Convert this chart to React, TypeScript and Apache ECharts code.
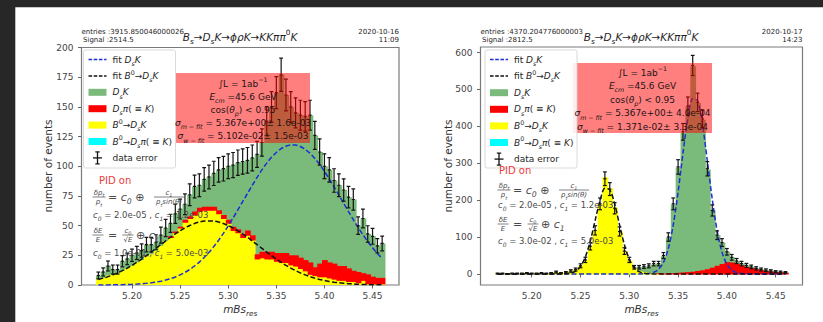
import React, { useEffect, useRef } from 'react';
import * as echarts from 'echarts';

const FONT = '"DejaVu Sans", "Noto Sans", sans-serif';

// bin centres of the reconstructed B_s mass (GeV), bin width 0.005
const MASS_BINS = [
  5.165, 5.17, 5.175, 5.18, 5.185, 5.19, 5.195, 5.2, 5.205, 5.21,
  5.215, 5.22, 5.225, 5.23, 5.235, 5.24, 5.245, 5.25, 5.255, 5.26,
  5.265, 5.27, 5.275, 5.28, 5.285, 5.29, 5.295, 5.3, 5.305, 5.31,
  5.315, 5.32, 5.325, 5.33, 5.335, 5.34, 5.345, 5.35, 5.355, 5.36,
  5.365, 5.37, 5.375, 5.38, 5.385, 5.39, 5.395, 5.4, 5.405, 5.41,
  5.415, 5.42, 5.425, 5.43, 5.435, 5.44, 5.445, 5.45, 5.455, 5.46,
];
const HALF_BIN = 0.0025;

const X_TICKS = [5.2, 5.25, 5.3, 5.35, 5.4, 5.45];
const LEFT_Y_TICKS = [0, 25, 50, 75, 100, 125, 150, 175, 200];
const RIGHT_Y_TICKS = [0, 100, 200, 300, 400, 500, 600];

// ---- run of 2020-10-16 ----
const LEFT_DATA = [
  8, 11, 16, 13, 13, 20, 22, 25, 27, 29,
  34, 34, 36, 42, 48, 52, 60, 64, 68, 76,
  83, 84, 89, 91, 94, 97, 98, 100, 101, 103,
  104, 105, 107, 110, 120, 138, 150, 162, 177, 160,
  150, 145, 143, 142, 143, 126, 112, 100, 97, 88,
  84, 80, 74, 72, 50, 56, 43, 41, 33, 35,
];
const LEFT_ERR = [
  2.9, 3.4, 4.2, 3.8, 3.8, 4.7, 4.9, 5.2, 5.5, 5.6,
  6.1, 6.1, 6.3, 6.8, 7.3, 7.6, 8.1, 8.4, 8.7, 9.2,
  9.6, 9.6, 9.9, 10, 10.2, 10.3, 10.4, 10.5, 10.6, 10.7,
  10.7, 10.8, 10.9, 11, 11.5, 12.3, 12.9, 13.4, 14, 13.3,
  12.9, 12.6, 12.6, 12.5, 12.6, 11.8, 11.1, 10.5, 10.3, 9.9,
  9.6, 9.4, 9, 8.9, 7.4, 7.9, 6.9, 6.7, 6, 6.2,
];
const LEFT_B0_DSK = [
  5, 6, 8, 9, 10, 12, 14, 16, 19, 21,
  24, 26, 29, 33, 37, 40, 44, 48, 53, 56,
  59, 62, 63, 63, 63, 60, 56, 52, 46, 44,
  40, 42, 38, 22, 23, 22, 22, 20, 19, 19,
  17, 16, 14, 12, 9, 8, 7, 7, 6, 5,
  4, 4, 3, 3, 2, 4, 1, 1, 1, 1,
];
const LEFT_DSPI = [
  0, 0, 0, 0, 0, 0, 0, 0, 0, 0,
  0, 0, 0, 0, 0, 1, 1, 1, 2, 2,
  3, 3, 3, 3, 3, 3, 3, 3, 3, 3,
  3, 4, 4, 4, 5, 6, 6, 7, 8, 8,
  8, 9, 9, 9, 10, 7, 11, 14, 13, 13,
  12, 12, 11, 9, 9, 6, 8, 6, 5, 5,
];
const LEFT_DSK = [
  3, 5, 8, 4, 3, 8, 8, 9, 8, 8,
  10, 8, 7, 9, 11, 11, 15, 15, 13, 18,
  21, 19, 23, 25, 28, 34, 39, 45, 52, 56,
  61, 59, 65, 84, 92, 110, 122, 135, 150, 133,
  125, 120, 120, 121, 124, 111, 94, 79, 78, 70,
  68, 64, 60, 60, 39, 46, 34, 34, 27, 29,
];
const LEFT_B0_DSPI = new Array(60).fill(0);
const LEFT_FIT_DSK = [
  0.05, 0.07, 0.1, 0.14, 0.2, 0.29, 0.4, 0.55, 0.76, 1.03,
  1.39, 1.85, 2.45, 3.2, 4.14, 5.31, 6.75, 8.5, 10.6, 13.1,
  16, 19.3, 23.2, 27.5, 32.4, 37.7, 43.5, 49.8, 56.4, 63.2,
  70.2, 77.1, 84, 90.7, 96.9, 102.6, 107.5, 111.6, 114.8, 116.9,
  117.9, 117.8, 116.6, 114.2, 110.9, 106.6, 101.5, 95.7, 89.4, 82.7,
  75.8, 68.8, 61.8, 55, 48.5, 42.4, 36.6, 31.4, 26.6, 22.4,
];
const LEFT_FIT_B0 = [
  4.68, 5.77, 7.03, 8.5, 10.2, 12.1, 14.2, 16.5, 19.1, 21.8,
  24.7, 27.7, 30.9, 34, 37.1, 40.2, 43.1, 45.7, 48.1, 50.1,
  51.8, 53, 53.8, 54, 53.8, 53, 51.8, 50.1, 48.1, 45.7,
  43.1, 40.2, 37.1, 34, 30.9, 27.7, 24.7, 21.8, 19.1, 16.5,
  14.2, 12.1, 10.2, 8.5, 7.03, 5.77, 4.68, 3.76, 3, 2.37,
  1.86, 1.44, 1.11, 0.84, 0.64, 0.48, 0.35, 0.26, 0.19, 0.14,
];

// ---- run of 2020-10-17 ----
const RIGHT_DATA = [
  1, 1, 0, 1, 1, 1, 2, 1, 1, 2,
  1, 2, 5, 2, 4, 8, 12, 22, 38, 75,
  118, 190, 258, 230, 178, 115, 62, 38, 18, 18,
  20, 22, 28, 28, 50, 100, 190, 290, 385, 455,
  565, 465, 420, 285, 172, 105, 85, 60, 45, 35,
  28, 23, 19, 15, 12, 10, 8, 6, 5, 4,
];
const RIGHT_ERR = [
  1.2, 1.2, 0.8, 1.2, 1.2, 1.2, 1.6, 1.2, 1.2, 1.6,
  1.2, 1.6, 2.6, 1.6, 2.3, 3.3, 4, 5.4, 7.1, 10,
  12.5, 15.9, 18.5, 17.4, 15.3, 12.3, 9, 7.1, 4.9, 4.9,
  5.1, 5.4, 6.1, 6.1, 8.1, 11.5, 15.9, 19.6, 22.6, 24.5,
  27.3, 24.8, 23.6, 19.4, 15.1, 11.8, 10.6, 8.9, 7.7, 6.8,
  6.1, 5.5, 5, 4.5, 4, 3.6, 3.3, 2.8, 2.6, 2.3,
];
const RIGHT_B0_DSK = [
  1, 1, 0, 1, 1, 1, 2, 1, 1, 2,
  1, 2, 5, 2, 4, 8, 12, 22, 38, 75,
  118, 190, 262, 232, 180, 115, 62, 36, 14, 8,
  5, 3, 2, 1, 0, 0, 0, 0, 0, 0,
  0, 0, 0, 0, 0, 0, 0, 0, 0, 0,
  0, 0, 0, 0, 0, 0, 0, 0, 0, 0,
];
const RIGHT_DSPI = [
  0, 0, 0, 0, 0, 0, 0, 0, 0, 0,
  0, 0, 0, 0, 0, 0, 0, 0, 0, 0,
  0, 0, 0, 0, 0, 0, 0, 0, 0, 0,
  0, 0, 0, 1, 1, 2, 2, 3, 4, 5,
  6, 8, 10, 13, 17, 22, 27, 32, 31, 27,
  23, 19, 16, 13, 10, 8, 6, 5, 4, 3,
];
const RIGHT_DSK = [
  0, 0, 0, 0, 0, 0, 0, 0, 0, 0,
  0, 0, 0, 0, 0, 0, 0, 0, 0, 0,
  0, 0, 0, 0, 0, 0, 0, 0, 3, 9,
  14, 18, 24, 26, 47, 96, 186, 285, 378, 448,
  557, 455, 408, 270, 155, 83, 58, 28, 14, 8,
  5, 4, 3, 2, 2, 2, 2, 1, 1, 1,
];
const RIGHT_B0_DSPI = new Array(60).fill(0);
const RIGHT_FIT_DSK = [
  0, 0, 0, 0, 0, 0, 0, 0, 0, 0,
  0, 0, 0, 0, 0, 0, 0, 0, 0, 0,
  0, 0, 0, 0, 0, 0, 0, 0, 0, 0.08,
  0.36, 1.33, 4.4, 12.5, 31.4, 68.8, 132, 222, 327, 421,
  475, 469, 405, 306, 203, 117, 59, 26.4, 10.2, 3.5,
  1, 0.27, 0.06, 0, 0, 0, 0, 0, 0, 0,
];
const RIGHT_FIT_B0 = [
  0, 0, 0, 0, 0, 0, 0, 0, 0, 0,
  0, 0, 0, 0.14, 0.63, 2.4, 7.5, 20.3, 46.2, 89,
  145, 199, 232, 228, 190, 133, 79, 39.8, 16.9, 6.1,
  1.8, 0.47, 0.1, 0, 0, 0, 0, 0, 0, 0,
  0, 0, 0, 0, 0, 0, 0, 0, 0, 0,
  0, 0, 0, 0, 0, 0, 0, 0, 0, 0,
];

const C_DSK = '#7aba7a';
const C_DSPI = '#ff0000';
const C_B0_DSK = '#ffff00';
const C_B0_DSPI = '#00ffff';
const C_FIT_DSK = '#1a2fd6';
const C_FIT_B0 = '#111111';
const TXT = '#262626';
const AXIS_TXT = '#444444';
const FORMULA = '#4a4a4a';

const GRIDS = [
  { left: 81.5, top: 47.5, width: 317.5, height: 237.5 },
  { left: 480.5, top: 47, width: 322, height: 238 },
];

function rich(size: number, color: string) {
  return {
    n: { fontSize: size, fontFamily: FONT, fill: color, lineHeight: size * 1.5, verticalAlign: 'middle' },
    i: { fontSize: size, fontFamily: FONT, fontStyle: 'italic', fill: color, lineHeight: size * 1.5, verticalAlign: 'middle' },
    s: { fontSize: size * 0.7, fontFamily: FONT, fontStyle: 'italic', fill: color, lineHeight: size * 0.75, verticalAlign: 'bottom' },
    p: { fontSize: size * 0.7, fontFamily: FONT, fill: color, lineHeight: size * 0.75, verticalAlign: 'top' },
  };
}

function label(x: number, y: number, text: string, size: number, color: string, align = 'left', extra: any = {}) {
  return {
    type: 'text',
    x,
    y,
    z: 100,
    silent: true,
    ...extra,
    style: {
      text,
      align,
      textAlign: align,
      verticalAlign: 'middle',
      textVerticalAlign: 'middle',
      fontSize: size,
      fontFamily: FONT,
      fill: color,
      rich: rich(size, color),
      ...(extra.style || {}),
    },
  };
}

function hline(x1: number, y: number, x2: number, color: string, width = 0.8, dash?: number[]) {
  return {
    type: 'line',
    z: 100,
    silent: true,
    shape: { x1, y1: y, x2, y2: y },
    style: { stroke: color, lineWidth: width, lineDash: dash },
  };
}

function fraction(cx: number, cy: number, num: string, den: string, width: number, size: number) {
  return [
    label(cx, cy - size * 0.62, num, size, FORMULA, 'center'),
    hline(cx - width / 2, cy, cx + width / 2, FORMULA, 0.7),
    label(cx, cy + size * 0.72, den, size, FORMULA, 'center'),
  ];
}

type Panel = {
  entries: string;
  signal: string;
  date: string;
  time: string;
  x0: number;
  x1: number;
  titleX: number;
  legendX: number;
  legendY: number;
  legendStep: number;
  box: { x: number; y: number; w: number; h: number; y0: number; step: number };
  boxLines: string[];
  pid: [number, number];
  fx: number;
  fy: [number, number, number, number];
  momRes: string;
  enRes: string;
  yTitleX: number;
};

const PANELS: Panel[] = [
  {
    entries: 'entries :3915.850046000026',
    signal: 'Signal :2514.5',
    date: '2020-10-16',
    time: '11:09',
    x0: 81.5,
    x1: 399,
    titleX: 240,
    legendX: 83.5,
    legendY: 50,
    legendStep: 16.4,
    box: { x: 176, y: 73, w: 134, h: 70, y0: 83.5, step: 13.2 },
    boxLines: [
      '{n|∫L = 1ab}{p|−1}',
      '{i|E}{s|cm}{n| =45.6 GeV}',
      '{n|cos(}{i|θ}{s|p}{n|) < 0.95}',
      '{i|σ}{s|m − fit}{n| = 5.367e+00± 1.6e-03}',
      '{i|σ}{s|w − fit}{n| = 5.102e-02± 1.5e-03}',
    ],
    pid: [99, 180],
    fx: 93,
    fy: [197, 215, 235, 253],
    momRes: '{i|c}{s|0}{n| = 2.0e-05 , }{i|c}{s|1}{n| = 1.2e-03}',
    enRes: '{i|c}{s|0}{n| = 1.0e-01 , }{i|c}{s|1}{n| = 5.0e-03}',
    yTitleX: 48,
  },
  {
    entries: 'entries :4370.204776000003',
    signal: 'Signal :2812.5',
    date: '2020-10-17',
    time: '14:23',
    x0: 480.5,
    x1: 802.5,
    titleX: 641,
    legendX: 485,
    legendY: 50,
    legendStep: 16.6,
    box: { x: 573, y: 63, w: 139, h: 70, y0: 72.5, step: 13.6 },
    boxLines: [
      '{n|∫L = 1ab}{p|−1}',
      '{i|E}{s|cm}{n| =45.6 GeV}',
      '{n|cos(}{i|θ}{s|p}{n|) < 0.95}',
      '{i|σ}{s|m − fit}{n| = 5.367e+00± 4.0e-04}',
      '{i|σ}{s|w − fit}{n| = 1.371e-02± 3.3e-04}',
    ],
    pid: [499, 170],
    fx: 498,
    fy: [190, 205, 224, 241],
    momRes: '{i|c}{s|0}{n| = 2.0e-05 , }{i|c}{s|1}{n| = 1.2e-03}',
    enRes: '{i|c}{s|0}{n| = 3.0e-02 , }{i|c}{s|1}{n| = 5.0e-03}',
    yTitleX: 448,
  },
];

const LEGEND_ITEMS = [
  { kind: 'line', color: C_FIT_DSK, text: '{n|fit }{i|D}{s|s}{i|K}' },
  { kind: 'line', color: C_FIT_B0, text: '{n|fit }{i|B}{p|0}{n|→}{i|D}{s|s}{i|K}' },
  { kind: 'patch', color: C_DSK, text: '{i|D}{s|s}{i|K}' },
  { kind: 'patch', color: C_DSPI, text: '{i|D}{s|s}{i|π}{n|( ≡ }{i|K}{n|)}' },
  { kind: 'patch', color: C_B0_DSK, text: '{i|B}{p|0}{n|→}{i|D}{s|s}{i|K}' },
  { kind: 'patch', color: C_B0_DSPI, text: '{i|B}{p|0}{n|→}{i|D}{s|s}{i|π}{n|( ≡ }{i|K}{n|)}' },
  { kind: 'err', color: '#111', text: '{n|data error}' },
];

function panelGraphics(p: Panel) {
  const els: any[] = [];
  // header
  els.push(label(p.x0, 32, p.entries, 7, TXT));
  els.push(label(p.x0 + 1.5, 39.5, p.signal, 7, TXT));
  els.push(label(p.x1, 32, p.date, 7, TXT, 'right'));
  els.push(label(p.x1, 39.5, p.time, 7, TXT, 'right'));
  els.push(
    label(p.titleX, 37, '{i|B}{s|s}{n|→}{i|D}{s|s}{i|K}{n|→}{i|ϕρK}{n|→}{i|KKππ}{p|0}{i|K}', 10.5, '#1e1e1e', 'center')
  );

  // axis titles
  els.push(label((p.x0 + p.x1) / 2, 309, '{i|mBs}{s|res}', 10.5, '#333', 'center'));
  els.push(
    label(p.yTitleX, 166, '{n|number of events}', 10.5, '#333', 'center', { rotation: Math.PI / 2 })
  );

  // legend frame
  const lx = p.legendX;
  els.push({
    type: 'rect',
    z: 99,
    silent: true,
    shape: { x: lx, y: p.legendY, width: 92, height: 118, r: 2 },
    style: { fill: 'rgba(255,255,255,0.85)', stroke: '#d0d0d0', lineWidth: 0.8 },
  });
  LEGEND_ITEMS.forEach((it, k) => {
    const y = p.legendY + 9.5 + k * p.legendStep;
    const hx0 = lx + 5;
    const hx1 = lx + 23;
    if (it.kind === 'line') {
      els.push(hline(hx0, y, hx1, it.color, 1.5, [3.6, 1.6]));
    } else if (it.kind === 'patch') {
      els.push({
        type: 'rect',
        z: 100,
        silent: true,
        shape: { x: hx0, y: y - 3.5, width: hx1 - hx0, height: 7 },
        style: { fill: it.color },
      });
    } else {
      const cx = (hx0 + hx1) / 2;
      els.push({ type: 'line', z: 100, silent: true, shape: { x1: cx, y1: y - 6, x2: cx, y2: y + 6 }, style: { stroke: it.color, lineWidth: 1.3 } });
      els.push(hline(cx - 2.2, y - 6, cx + 2.2, it.color, 1.2));
      els.push(hline(cx - 2.2, y + 6, cx + 2.2, it.color, 1.2));
      els.push(hline(cx - 4.5, y, cx + 4.5, it.color, 1.3));
    }
    els.push(label(lx + 29, y, it.text, 9, TXT));
  });

  // fit summary box
  const b = p.box;
  els.push({
    type: 'rect',
    z: 90,
    silent: true,
    shape: { x: b.x, y: b.y, width: b.w, height: b.h },
    style: { fill: 'rgba(255,0,0,0.5)' },
  });
  p.boxLines.forEach((t, k) => {
    els.push(label(b.x + b.w / 2, b.y0 + k * b.step, t, 9, '#241414', 'center'));
  });

  // resolution model
  els.push(label(p.pid[0], p.pid[1], 'PID on', 10, '#ec3a3a'));
  const fx = p.fx;
  const [f1, f2, f3, f4] = p.fy;
  els.push(...fraction(fx + 6, f1, '{i|δp}{s|t}', '{i|p}{s|t}', 13, 7));
  els.push(label(fx + 15, f1, '{n|= }{i|c}{s|0}{n| ⊕}', 11, FORMULA));
  els.push(...fraction(fx + 76, f1, '{i|c}{s|1}', '{i|p}{s|t}{i|sin(θ)}', 30, 7));
  els.push(label(fx, f2, p.momRes, 8.5, FORMULA));
  els.push(...fraction(fx + 5, f3, '{i|δE}', '{i|E}', 11, 7));
  els.push(label(fx + 15, f3, '{n|=}', 11, FORMULA));
  els.push(...fraction(fx + 35, f3, '{i|c}{s|0}', '{n|√}{i|E}', 11, 7));
  els.push(label(fx + 43, f3, '{n|⊕ }{i|c}{s|1}', 11, FORMULA));
  els.push(label(fx, f4, p.enRes, 8.5, FORMULA));
  return els;
}

// one stacked layer of the histogram; neighbouring rectangles overlap by a
// fraction of a pixel so no hairline seams show between bins or layers
function histSeries(gi: number, base: number[], height: number[], color: string, name: string, z: number) {
  const rows = MASS_BINS.map((x, i) => [x, base[i], base[i] + height[i]]);
  return {
    type: 'custom',
    name,
    xAxisIndex: gi,
    yAxisIndex: gi,
    z,
    silent: true,
    clip: true,
    data: rows,
    encode: { x: 0, y: [1, 2] },
    renderItem: (_params: any, api: any) => {
      const x = api.value(0);
      const lo = api.value(1);
      const hi = api.value(2);
      if (!(hi > lo)) return null;
      const a = api.coord([x - HALF_BIN, hi]);
      const c = api.coord([x + HALF_BIN, lo]);
      return {
        type: 'rect',
        shape: { x: a[0], y: a[1], width: c[0] - a[0] + 0.9, height: c[1] - a[1] + 0.6 },
        style: { fill: color },
      };
    },
  };
}

function errSeries(gi: number, values: number[], errs: number[]) {
  return {
    type: 'custom',
    name: 'data error',
    xAxisIndex: gi,
    yAxisIndex: gi,
    z: 5,
    silent: true,
    clip: true,
    data: MASS_BINS.map((x, i) => [x, values[i], errs[i]]),
    encode: { x: 0, y: 1 },
    renderItem: (_params: any, api: any) => {
      const x = api.value(0);
      const v = api.value(1);
      const e = api.value(2);
      const c = api.coord([x, v]);
      const t = api.coord([x, v + e]);
      const bt = api.coord([x, v - e]);
      const l = api.coord([x - 0.0016, v]);
      const r = api.coord([x + 0.0016, v]);
      const st = { stroke: '#141414', lineWidth: 1.2 };
      const cap = 1.9;
      return {
        type: 'group',
        children: [
          { type: 'line', shape: { x1: c[0], y1: t[1], x2: c[0], y2: bt[1] }, style: st },
          { type: 'line', shape: { x1: c[0] - cap, y1: t[1], x2: c[0] + cap, y2: t[1] }, style: st },
          { type: 'line', shape: { x1: c[0] - cap, y1: bt[1], x2: c[0] + cap, y2: bt[1] }, style: st },
          { type: 'line', shape: { x1: l[0], y1: c[1], x2: r[0], y2: c[1] }, style: st },
        ],
      };
    },
  };
}

function fitSeries(gi: number, values: number[], color: string, name: string) {
  return {
    type: 'line',
    name,
    xAxisIndex: gi,
    yAxisIndex: gi,
    z: 4,
    silent: true,
    showSymbol: false,
    smooth: 0.3,
    data: MASS_BINS.map((x, i) => [x, values[i]]),
    lineStyle: { color, width: 1.5, type: [5, 2.4] },
  };
}

function buildOption() {
  const xAxis = GRIDS.map((_g, gi) => ({
    type: 'value',
    gridIndex: gi,
    min: 5.1475,
    max: 5.4775,
    axisLine: { show: false },
    axisTick: { show: true, length: 3.5, lineStyle: { color: '#666', width: 1 }, customValues: X_TICKS },
    axisLabel: {
      show: true,
      margin: 6,
      customValues: X_TICKS,
      formatter: (v: number) => v.toFixed(2),
      color: AXIS_TXT,
      fontSize: 9,
      fontFamily: FONT,
    },
    splitLine: { show: false },
  }));
  const yAxis = [
    { min: 0, max: 200, ticks: LEFT_Y_TICKS },
    { min: -30, max: 615, ticks: RIGHT_Y_TICKS },
  ].map((a, gi) => ({
    type: 'value',
    gridIndex: gi,
    min: a.min,
    max: a.max,
    axisLine: { show: false },
    axisTick: { show: true, length: 3.5, lineStyle: { color: '#666', width: 1 }, customValues: a.ticks },
    axisLabel: {
      show: true,
      margin: 8,
      customValues: a.ticks,
      color: AXIS_TXT,
      fontSize: 9,
      fontFamily: FONT,
    },
    splitLine: { show: false },
  }));

  const panelsData = [
    { data: LEFT_DATA, err: LEFT_ERR, y: LEFT_B0_DSK, r: LEFT_DSPI, g: LEFT_DSK, c: LEFT_B0_DSPI, fd: LEFT_FIT_DSK, fb: LEFT_FIT_B0 },
    { data: RIGHT_DATA, err: RIGHT_ERR, y: RIGHT_B0_DSK, r: RIGHT_DSPI, g: RIGHT_DSK, c: RIGHT_B0_DSPI, fd: RIGHT_FIT_DSK, fb: RIGHT_FIT_B0 },
  ];
  const series: any[] = [];
  panelsData.forEach((d, gi) => {
    const zero = MASS_BINS.map(() => 0);
    const yr = d.y.map((v, i) => v + d.r[i]);
    const yrg = yr.map((v, i) => v + d.g[i]);
    series.push(histSeries(gi, zero, d.y, C_B0_DSK, 'B0->DsK', 2));
    series.push(histSeries(gi, d.y, d.r, C_DSPI, 'Dspi', 2));
    series.push(histSeries(gi, yr, d.g, C_DSK, 'DsK', 1));
    series.push(histSeries(gi, yrg, d.c, C_B0_DSPI, 'B0->Dspi', 1));
    series.push(fitSeries(gi, d.fd, C_FIT_DSK, 'fit DsK'));
    series.push(fitSeries(gi, d.fb, C_FIT_B0, 'fit B0->DsK'));
    series.push(errSeries(gi, d.data, d.err));
  });

  const elements: any[] = [];
  PANELS.forEach((p) => elements.push(...panelGraphics(p)));
  // dark frame of the screenshot
  elements.push({ type: 'rect', z: 200, silent: true, shape: { x: 0, y: 0, width: 823, height: 7.3 }, style: { fill: '#272727' } });
  elements.push({ type: 'rect', z: 200, silent: true, shape: { x: 0, y: 0, width: 15.3, height: 322 }, style: { fill: '#272727' } });

  return {
    animation: false,
    backgroundColor: '#ffffff',
    textStyle: { fontFamily: FONT },
    grid: GRIDS.map((g) => ({
      ...g,
      show: true,
      borderColor: '#7a7a7a',
      borderWidth: 1.2,
      backgroundColor: 'rgba(0,0,0,0)',
      containLabel: false,
    })),
    xAxis,
    yAxis,
    series,
    graphic: { elements },
  };
}

export default function App() {
  const ref = useRef<HTMLDivElement>(null);
  useEffect(() => {
    if (!ref.current) return;
    const chart = echarts.init(ref.current, null, { renderer: 'svg' });
    chart.setOption(buildOption() as any);
    return () => chart.dispose();
  }, []);
  return (
    <div
      ref={ref}
      style={{ position: 'fixed', left: 0, top: 0, width: 823, height: 322, background: '#ffffff' }}
    />
  );
}
